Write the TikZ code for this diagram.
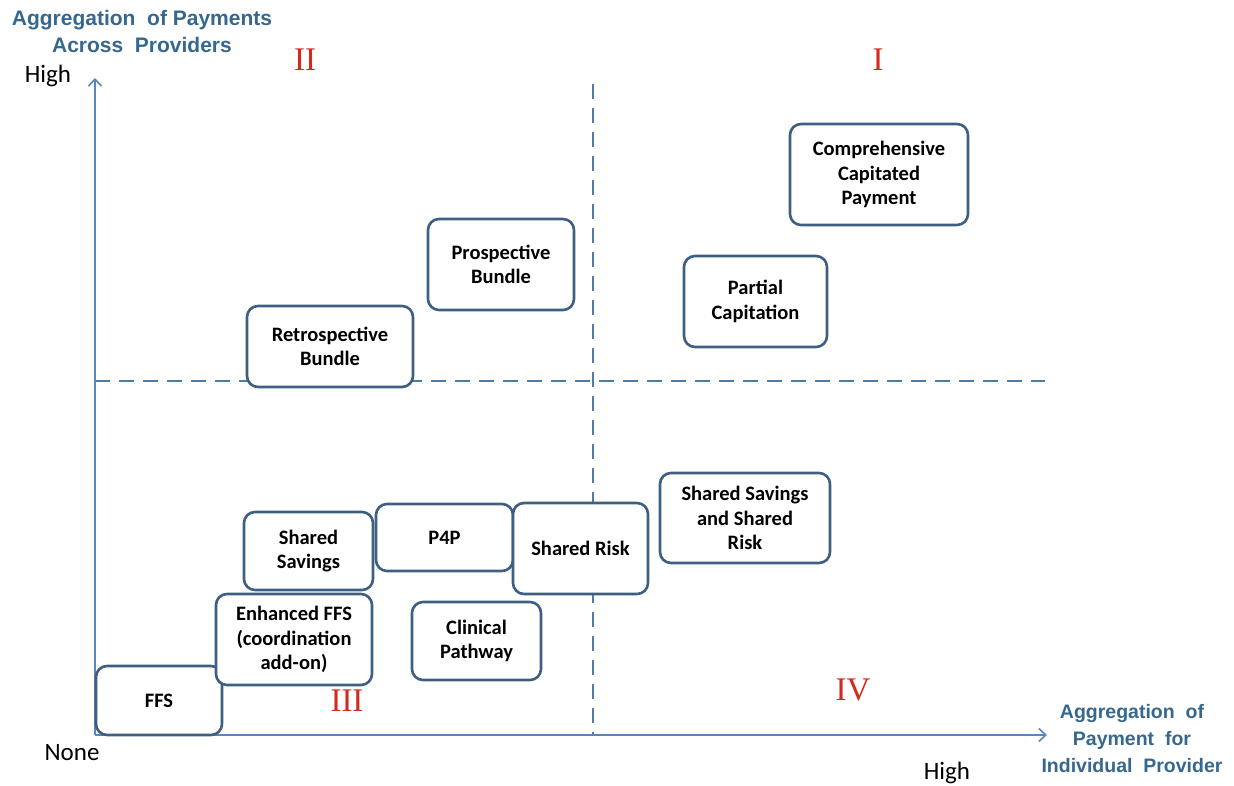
\documentclass[tikz,border=0pt]{standalone}
\usepackage{fontspec}
\setmainfont{Carlito}
\newfontfamily\arialfont{Liberation Sans}
\newfontfamily\timesfont{Liberation Serif}
\usetikzlibrary{arrows.meta}
\definecolor{boxline}{HTML}{3E5F82}
\definecolor{axisblue}{HTML}{5B86BD}
\definecolor{dashblue}{HTML}{4F7BA8}
\definecolor{labelblue}{HTML}{36688F}
\definecolor{romanred}{HTML}{D42A1E}
\begin{document}
\begin{tikzpicture}[x=1pt,y=-1pt,
  pbox/.style={draw=boxline, line width=2.6pt, rounded corners=11pt, fill=white, align=center, inner sep=0pt, font=\fontsize{20.5}{24.5}\selectfont\bfseries},
  axislabel/.style={text=labelblue, align=center, font=\arialfont\fontsize{20.5}{27}\selectfont\bfseries},
  lvl/.style={font=\fontsize{25}{28}\selectfont},
  roman/.style={text=romanred, font=\timesfont\fontsize{33}{36}\selectfont},
  axisline/.style={draw=axisblue, line width=1.6pt},
  dashline/.style={draw=dashblue, line width=1.6pt, dash pattern=on 15pt off 9pt}]
\useasboundingbox (0,0) rectangle (1234,786);
\fill[white] (0,0) rectangle (1234,786);
% coordinates
\coordinate (O) at (95,735);
\coordinate (ytop) at (95,78);
\coordinate (xend) at (1047,735);
\coordinate (hl) at (95,381);
\coordinate (hr) at (1045,381);
\coordinate (vt) at (593,84);
\coordinate (vb) at (593,735);
% dashed quadrant lines
\draw[dashline] (hl) -- (hr);
\draw[dashline] (vt) -- (vb);
% axes
\draw[axisline, -{Straight Barb[length=7pt,width=13pt]}] (O) -- (ytop);
\draw[axisline, -{Straight Barb[length=7pt,width=13pt]}] (O) -- (xend);
% boxes
\node[pbox, minimum width=126pt, minimum height=69pt] (ffs) at (159,700.5) {FFS};
\node[pbox, minimum width=156pt, minimum height=91pt] (eff) at (294,639.5) {Enhanced FFS\\(coordination\\add-on)};
\node[pbox, minimum width=129pt, minimum height=78pt] (ss) at (308.5,551) {Shared\\Savings};
\node[pbox, minimum width=137pt, minimum height=67pt] (p4p) at (444.5,537.5) {P4P};
\node[pbox, minimum width=135pt, minimum height=91pt] (sr) at (580.5,548.5) {Shared Risk};
\node[pbox, minimum width=129pt, minimum height=78pt] (cp) at (476.5,641) {Clinical\\Pathway};
\node[pbox, minimum width=170pt, minimum height=90pt] (sssr) at (745,518) {Shared Savings\\and Shared\\Risk};
\node[pbox, minimum width=166pt, minimum height=81pt] (rb) at (330,346.5) {Retrospective\\Bundle};
\node[pbox, minimum width=146pt, minimum height=91pt] (pb) at (501,264.5) {Prospective\\Bundle};
\node[pbox, minimum width=143pt, minimum height=91pt] (pc) at (755.5,301.5) {Partial\\Capitation};
\node[pbox, minimum width=178pt, minimum height=101pt] (ccp) at (879,174.5) {Comprehensive\\Capitated\\Payment};
% axis labels
\node[axislabel, font=\arialfont\fontsize{21}{27}\selectfont\bfseries] (ylab) at (142,31) {Aggregation\ \ of Payments\\Across\ \ Providers};
\node[axislabel, font=\arialfont\fontsize{19.5}{27}\selectfont\bfseries] (xlab) at (1132,739) {Aggregation\ \ of\\Payment\ \ for\\Individual\ \ Provider};
\node[lvl] (yhigh) at (48,76) {High};
\node[lvl] (none) at (72,753) {None};
\node[lvl] (xhigh) at (947,773) {High};
% quadrant numerals
\node[roman] (q2) at (305,60) {II};
\node[roman] (q1) at (878,60) {I};
\node[roman] (q3) at (347,701) {III};
\node[roman] (q4) at (853,690) {IV};
\end{tikzpicture}
\end{document}
